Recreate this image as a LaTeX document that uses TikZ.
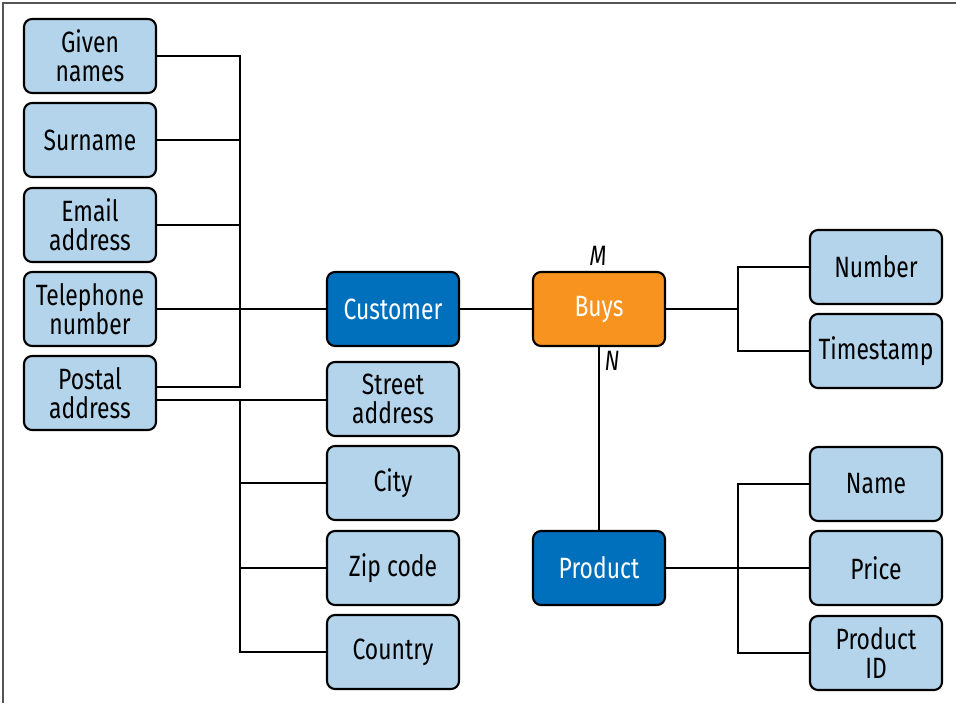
\documentclass[tikz,border=0pt]{standalone}
\usepackage{fontspec}
\setmainfont{Fira Sans}[FakeStretch=0.78]
\definecolor{lightb}{HTML}{B3D4EB}
\definecolor{darkb}{HTML}{0070BD}
\definecolor{orng}{HTML}{F7931E}
\definecolor{frame}{HTML}{555555}
\tikzset{
  box/.style={draw=black, line width=1.6pt, rounded corners=6pt, minimum width=99pt, minimum height=55.5pt, align=center, font=\fontsize{22}{21.7}\selectfont, inner sep=0pt},
  attr/.style={box, fill=lightb, text=black},
  ent/.style={box, fill=darkb, text=white},
  rel/.style={box, fill=orng, text=white},
  conn/.style={line width=1.5pt, black},
  card/.style={font=\fontsize{21}{24}\selectfont\itshape}
}
\begin{document}
\begin{tikzpicture}[x=0.75pt,y=-0.75pt]
\useasboundingbox (0,0) rectangle (956,703);
\draw[frame, line width=1pt] (3,703) -- (3,3) -- (956,3);
% left column
\node[attr] (given) at (90,56) {Given\\names};
\node[attr] (sur) at (90,140) {Surname};
\node[attr] (email) at (90,225) {Email\\address};
\node[attr] (tel) at (90,309) {Telephone\\number};
\node[attr] (postal) at (90,393) {Postal\\address};
% middle
\node[ent] (cust) at (393,309) {Customer};
\node[rel] (buys) at (599,309) {Buys\vphantom{C}};
\node[attr] (street) at (393,399) {Street\\address};
\node[attr] (city) at (393,483) {City};
\node[attr] (zip) at (393,568) {Zip code};
\node[attr] (country) at (393,652) {Country};
\node[ent] (prod) at (599,568) {Product};
% right
\node[attr] (num) at (876,267) {Number};
\node[attr] (ts) at (876,351) {Timestamp};
\node[attr] (name) at (876,484) {Name};
\node[attr] (price) at (876,568) {Price};
\node[attr] (pid) at (876,653) {Product\\ID};
% coordinates for buses
\coordinate (b1top) at (240,56);
\coordinate (b1bot) at (240,387);
\coordinate (b2top) at (240,400);
\coordinate (b2bot) at (240,652);
\coordinate (b3top) at (738,267);
\coordinate (b3bot) at (738,351);
\coordinate (b4top) at (738,484);
\coordinate (b4bot) at (738,653);
% customer attributes bus
\draw[conn] (given.east) -- (b1top) -- (b1bot) -- (postal.east |- b1bot);
\draw[conn] (sur.east) -- (sur.east -| b1top);
\draw[conn] (email.east) -- (email.east -| b1top);
\draw[conn] (tel.east) -- (cust.west);
% postal sub-attributes
\draw[conn] (postal.east |- b2top) -- (street.west |- b2top);
\draw[conn] (b2top) -- (b2bot) -- (country.west);
\draw[conn] (city.west) -- (city.west -| b2top);
\draw[conn] (zip.west) -- (zip.west -| b2top);
% relationship
\draw[conn] (cust.east) -- (buys.west);
\draw[conn] (buys.south) -- (prod.north);
\draw[conn] (buys.east) -- (buys.east -| b3top);
\draw[conn] (num.west) -- (b3top) -- (b3bot) -- (ts.west);
% product attributes
\draw[conn] (prod.east) -- (price.west);
\draw[conn] (name.west) -- (b4top) -- (b4bot) -- (pid.west);
% cardinalities
\node[card] (m) at (598,256) {M};
\node[card] (n) at (612,361) {N};
\end{tikzpicture}
\end{document}
